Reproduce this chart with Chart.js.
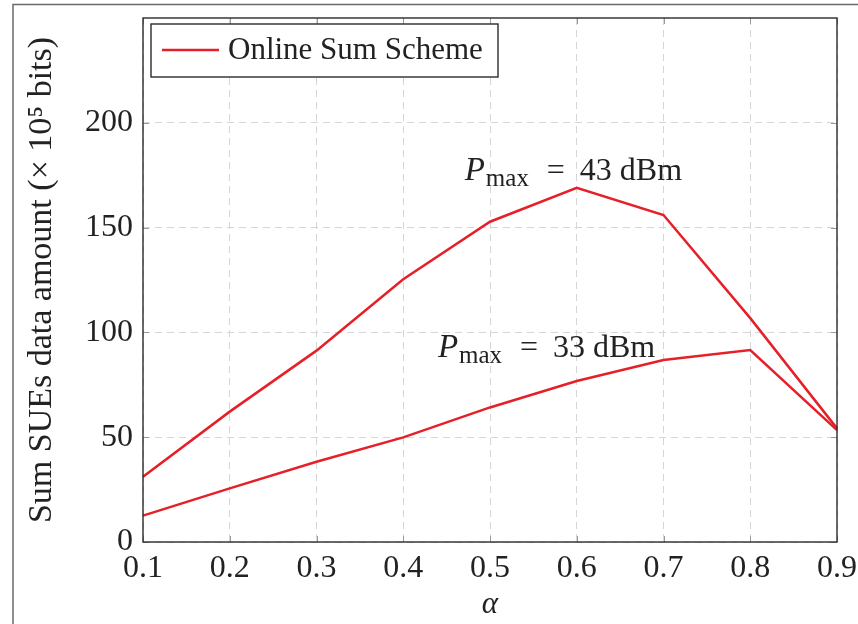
<!DOCTYPE html>
<html>
<head>
<meta charset="utf-8">
<script src="https://cdn.jsdelivr.net/npm/chart.js@4.4.1/dist/chart.umd.min.js"></script>
<style>
  html, body { margin: 0; padding: 0; background: #fff; }
  #wrap { width: 858px; height: 624px; }
</style>
</head>
<body>
<div id="wrap"><canvas id="sumChart" width="858" height="624"></canvas></div>
<script>
const alphaLabels = ['0.1', '0.2', '0.3', '0.4', '0.5', '0.6', '0.7', '0.8', '0.9'];
const sum43dBm = [31.1, 62.2, 91.3, 125.4, 152.8, 169.0, 156.0, 106.8, 54.2];
const sum33dBm = [12.6, 25.6, 38.3, 49.9, 64.2, 76.8, 86.8, 91.6, 53.4];
const yTicks = [0, 50, 100, 150, 200];

const RED = 'rgb(230, 32, 40)';
const SERIF = '"Liberation Serif", "DejaVu Serif", serif';

// curve labels, placed in data coordinates (category index, y value at baseline)
const curveNotes = [
    { power: '43', x: 3.71, y: 172.7 },
    { power: '33', x: 3.40, y: 88.2 }
];

const frame = {
    id: 'frame',
    afterDraw(chart) {
        const { ctx, chartArea: a, scales } = chart;
        ctx.save();

        // small inward ticks like pgfplots
        ctx.strokeStyle = '#9a9a9a';
        ctx.lineWidth = 1;
        scales.x.ticks.forEach((t, i) => {
            const px = Math.round(scales.x.getPixelForTick(i)) + 0.5;
            ctx.beginPath();
            ctx.moveTo(px, a.bottom); ctx.lineTo(px, a.bottom - 6);
            ctx.moveTo(px, a.top); ctx.lineTo(px, a.top + 6);
            ctx.stroke();
        });
        scales.y.ticks.forEach((t, i) => {
            const py = Math.round(scales.y.getPixelForTick(i)) + 0.5;
            ctx.beginPath();
            ctx.moveTo(a.left, py); ctx.lineTo(a.left + 6, py);
            ctx.moveTo(a.right, py); ctx.lineTo(a.right - 6, py);
            ctx.stroke();
        });

        // axis box
        ctx.strokeStyle = '#2b2b2b';
        ctx.lineWidth = 1.4;
        ctx.strokeRect(a.left, a.top, a.right - a.left, a.bottom - a.top);

        // legend
        const lx = 151, ly = 24, lw = 347, lh = 53;
        ctx.fillStyle = '#fff';
        ctx.fillRect(lx, ly, lw, lh);
        ctx.strokeRect(lx, ly, lw, lh);
        ctx.strokeStyle = RED;
        ctx.lineWidth = 2.5;
        ctx.beginPath();
        ctx.moveTo(162, 50); ctx.lineTo(219, 50);
        ctx.stroke();
        ctx.fillStyle = '#222';
        ctx.font = '31px ' + SERIF;
        ctx.textBaseline = 'alphabetic';
        ctx.textAlign = 'left';
        ctx.fillText('Online Sum Scheme', 228, 59);

        // P_max annotations, math-style spacing around "="
        curveNotes.forEach(n => {
            const x = scales.x.getPixelForValue(n.x);
            const y = scales.y.getPixelForValue(n.y);
            ctx.font = 'italic 33px ' + SERIF;
            ctx.fillText('P', x, y);
            ctx.font = '25px ' + SERIF;
            ctx.fillText('max', x + 21, y + 6);
            ctx.font = '32px ' + SERIF;
            ctx.fillText('=', x + 82, y);
            ctx.fillText(n.power + ' dBm', x + 115, y);
        });

        // outer figure frame
        ctx.strokeStyle = '#6a6a6a';
        ctx.lineWidth = 1.5;
        ctx.beginPath();
        ctx.moveTo(13, 624); ctx.lineTo(13, 4.5); ctx.lineTo(858, 4.5);
        ctx.stroke();
        ctx.restore();
    }
};

const ctx = document.getElementById('sumChart').getContext('2d');
new Chart(ctx, {
    type: 'line',
    data: {
        labels: alphaLabels,
        datasets: [
            { label: 'Online Sum Scheme', data: sum43dBm, borderColor: RED, borderWidth: 2.5, pointRadius: 0, tension: 0, fill: false },
            { label: 'Online Sum Scheme', data: sum33dBm, borderColor: RED, borderWidth: 2.5, pointRadius: 0, tension: 0, fill: false }
        ]
    },
    options: {
        responsive: false,
        animation: false,
        layout: { padding: { left: 0, top: 18, right: 21, bottom: 0 } },
        plugins: {
            legend: { display: false },
            tooltip: { enabled: false }
        },
        scales: {
            x: {
                offset: false,
                grid: { color: '#d6d6d6', lineWidth: 1, drawTicks: false },
                border: { display: false, dash: [7, 5] },
                ticks: { color: '#222', font: { family: SERIF, size: 32 }, padding: 7, maxRotation: 0, autoSkip: false },
                title: { display: true, text: 'α', color: '#222', font: { family: SERIF, size: 31, style: 'italic' }, padding: { top: 0, bottom: 1 } },
                afterFit(s) { s.height = 82; s.paddingLeft = 0; s.paddingRight = 0; }
            },
            y: {
                min: 0,
                max: 250,
                grid: { color: '#d6d6d6', lineWidth: 1, drawTicks: false },
                border: { display: false, dash: [7, 5] },
                afterBuildTicks(s) { s.ticks = yTicks.concat([250]).map(v => ({ value: v })); },
                ticks: {
                    color: '#222',
                    font: { family: SERIF, size: 32 },
                    padding: 10,
                    callback: v => (yTicks.includes(v) ? String(v) : null)
                },
                title: { display: true, text: 'Sum SUEs data amount (× 10⁵ bits)', color: '#222', font: { family: SERIF, size: 34 }, padding: { top: 22, bottom: 0 } },
                afterFit(s) { s.width = 143; s.paddingTop = 0; s.paddingBottom = 0; }
            }
        }
    },
    plugins: [frame]
});
</script>
</body>
</html>
